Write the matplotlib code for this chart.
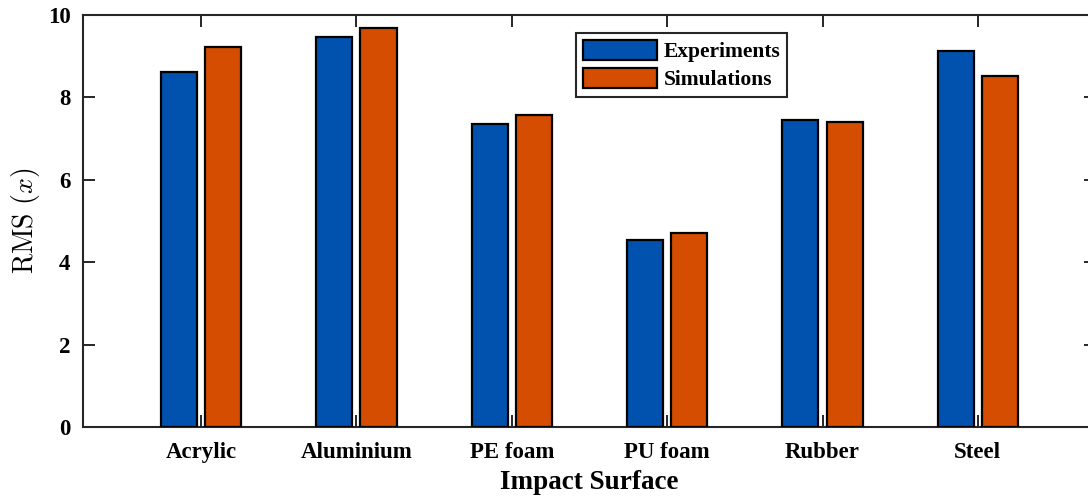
import matplotlib.pyplot as plt
import numpy as np

surfaces = ['Acrylic', 'Aluminium', 'PE foam', 'PU foam', 'Rubber', 'Steel']
experiments = [8.62, 9.47, 7.35, 4.55, 7.45, 9.13]
simulations = [9.22, 9.68, 7.57, 4.70, 7.40, 8.52]

plt.rcParams['font.family'] = 'Liberation Serif'
plt.rcParams['mathtext.fontset'] = 'cm'

fig = plt.figure(figsize=(10.88, 4.98), dpi=100)
ax = fig.add_axes([0.0763, 0.1426, 0.931, 0.8273])

x = np.arange(1, len(surfaces) + 1)
w = 0.232
off = 0.142
ax.bar(x - off, experiments, w, color='#0152AE', edgecolor='black',
       linewidth=1.6, label='Experiments', zorder=3)
ax.bar(x + off, simulations, w, color='#D54D01', edgecolor='black',
       linewidth=1.6, label='Simulations', zorder=3)

ax.set_xlim(0.24, 6.76)
ax.set_ylim(0, 10)
ax.set_xticks(x)
ax.set_xticklabels(surfaces, fontsize=16.5, fontweight='bold')
ax.set_yticks([0, 2, 4, 6, 8, 10])
ax.set_yticklabels(['0', '2', '4', '6', '8', '10'], fontsize=16.5,
                   fontweight='bold')
ax.tick_params(direction='in', length=8.5, width=1.4, color='#262626',
               top=True, right=True, pad=9)
ax.tick_params(axis='x', pad=11)
for s in ax.spines.values():
    s.set_linewidth(1.5)
    s.set_color('#262626')

ax.set_xlabel('Impact Surface', fontsize=19.5, fontweight='bold', labelpad=5)
ax.set_ylabel(r'$\mathrm{RMS}\ (x)$', fontsize=20, labelpad=4)

leg = ax.legend(loc='upper left', bbox_to_anchor=(0.487, 0.956),
                prop={'weight': 'bold', 'size': 15.5},
                handlelength=3.45, handleheight=1.1, handletextpad=0.3,
                labelspacing=0.25, borderpad=0.3, borderaxespad=0,
                fancybox=False, framealpha=1)
leg.get_frame().set_edgecolor('#262626')
leg.get_frame().set_linewidth(1.5)

fig.savefig('out.png', dpi=100)
